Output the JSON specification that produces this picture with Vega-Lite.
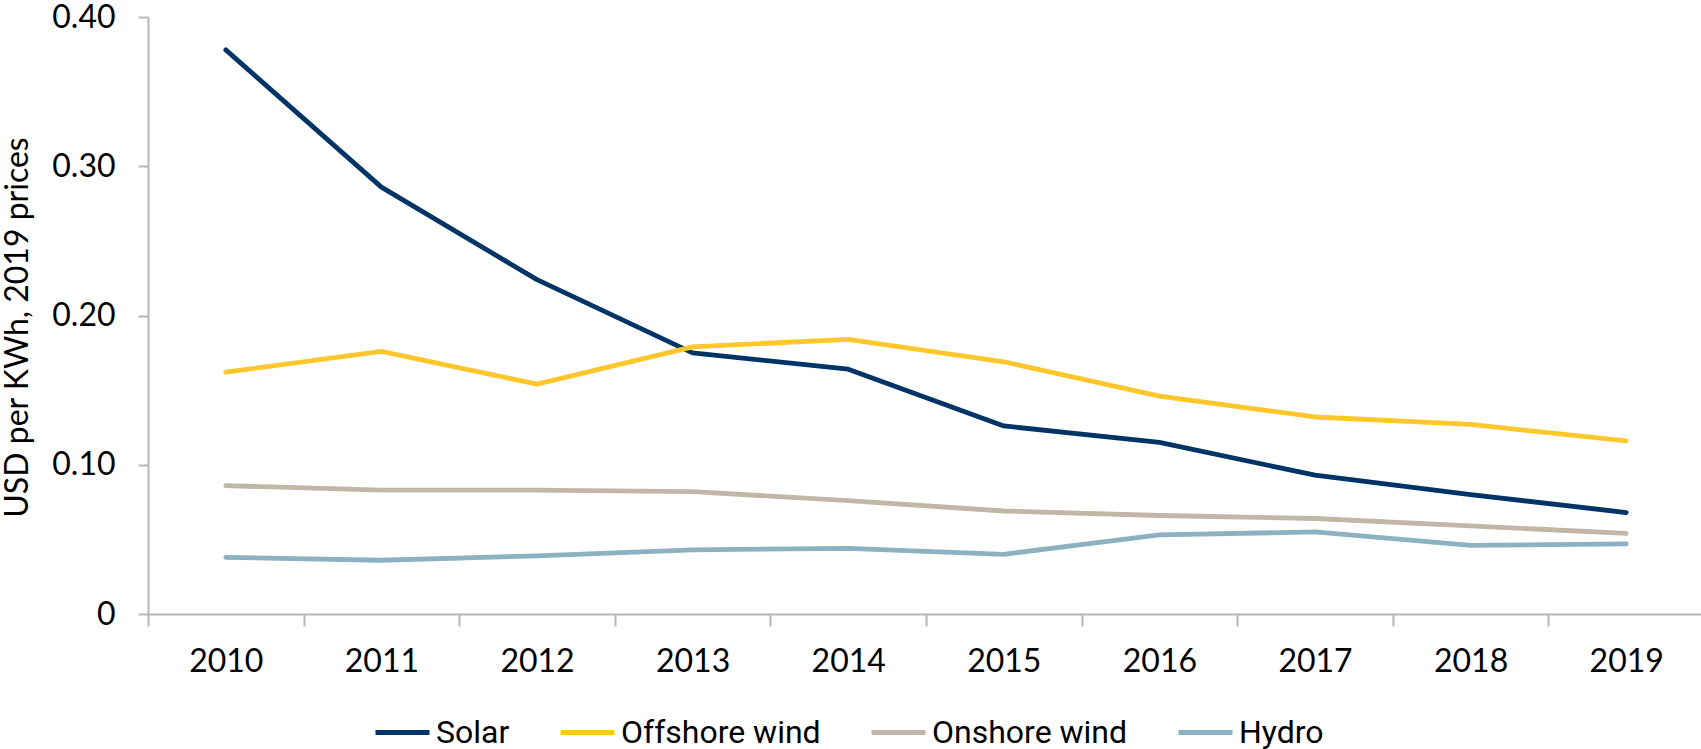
{
  "$schema": "https://vega.github.io/schema/vega-lite/v6.json",
  "width": 1556,
  "height": 597,
  "autosize": {"type": "none"},
  "padding": {"left": 148, "top": 17, "right": 0, "bottom": 135},
  "background": "white",
  "config": {
    "view": {"stroke": null},
    "font": "Lato",
    "axis": {"labelFont": "Lato", "titleFont": "Lato", "labelColor": "#000", "titleColor": "#000", "domainColor": "#b7b7b7", "tickColor": "#b7b7b7", "domainWidth": 2, "tickWidth": 2, "grid": false},
    "legend": {"labelFont": "Roboto"}
  },
  "data": {
    "values": [
      {"year": "2010", "source": "Solar", "value": 0.378},
      {"year": "2011", "source": "Solar", "value": 0.286},
      {"year": "2012", "source": "Solar", "value": 0.224},
      {"year": "2013", "source": "Solar", "value": 0.175},
      {"year": "2014", "source": "Solar", "value": 0.164},
      {"year": "2015", "source": "Solar", "value": 0.126},
      {"year": "2016", "source": "Solar", "value": 0.115},
      {"year": "2017", "source": "Solar", "value": 0.093},
      {"year": "2018", "source": "Solar", "value": 0.080},
      {"year": "2019", "source": "Solar", "value": 0.068},
      {"year": "2010", "source": "Offshore wind", "value": 0.162},
      {"year": "2011", "source": "Offshore wind", "value": 0.176},
      {"year": "2012", "source": "Offshore wind", "value": 0.154},
      {"year": "2013", "source": "Offshore wind", "value": 0.179},
      {"year": "2014", "source": "Offshore wind", "value": 0.184},
      {"year": "2015", "source": "Offshore wind", "value": 0.169},
      {"year": "2016", "source": "Offshore wind", "value": 0.146},
      {"year": "2017", "source": "Offshore wind", "value": 0.132},
      {"year": "2018", "source": "Offshore wind", "value": 0.127},
      {"year": "2019", "source": "Offshore wind", "value": 0.116},
      {"year": "2010", "source": "Onshore wind", "value": 0.086},
      {"year": "2011", "source": "Onshore wind", "value": 0.083},
      {"year": "2012", "source": "Onshore wind", "value": 0.083},
      {"year": "2013", "source": "Onshore wind", "value": 0.082},
      {"year": "2014", "source": "Onshore wind", "value": 0.076},
      {"year": "2015", "source": "Onshore wind", "value": 0.069},
      {"year": "2016", "source": "Onshore wind", "value": 0.066},
      {"year": "2017", "source": "Onshore wind", "value": 0.064},
      {"year": "2018", "source": "Onshore wind", "value": 0.059},
      {"year": "2019", "source": "Onshore wind", "value": 0.054},
      {"year": "2010", "source": "Hydro", "value": 0.038},
      {"year": "2011", "source": "Hydro", "value": 0.036},
      {"year": "2012", "source": "Hydro", "value": 0.039},
      {"year": "2013", "source": "Hydro", "value": 0.043},
      {"year": "2014", "source": "Hydro", "value": 0.044},
      {"year": "2015", "source": "Hydro", "value": 0.040},
      {"year": "2016", "source": "Hydro", "value": 0.053},
      {"year": "2017", "source": "Hydro", "value": 0.055},
      {"year": "2018", "source": "Hydro", "value": 0.046},
      {"year": "2019", "source": "Hydro", "value": 0.047}
    ]
  },
  "mark": {"type": "line", "strokeWidth": 4.8, "strokeCap": "round", "strokeJoin": "round"},
  "encoding": {
    "x": {
      "field": "year", "type": "ordinal",
      "scale": {"type": "band", "paddingInner": 0, "paddingOuter": 0},
      "axis": {"title": null, "labelAngle": 0, "labelFontSize": 32, "tickSize": 12, "labelPadding": 20, "ticks": true, "domain": true, "tickBand": "extent"}
    },
    "y": {
      "field": "value", "type": "quantitative",
      "scale": {"domain": [0, 0.4], "nice": false},
      "axis": {
        "values": [0, 0.1, 0.2, 0.3, 0.4],
        "labelExpr": "datum.value == 0 ? '0' : format(datum.value, '.2f')",
        "labelFontSize": 32, "tickSize": 10, "labelPadding": 23,
        "title": "USD per KWh, 2019 prices", "titleFontSize": 32, "titleFontWeight": "normal",
        "titleX": -121, "titleY": 310, "titleAngle": -90, "titleAlign": "center", "titleBaseline": "alphabetic"
      }
    },
    "color": {
      "field": "source", "type": "nominal",
      "scale": {"domain": ["Solar", "Offshore wind", "Onshore wind", "Hydro"], "range": ["#003366", "#FFC72C", "#C2B6A6", "#8CB1C3"]},
      "legend": {
        "title": null, "orient": "none", "direction": "horizontal",
        "legendX": 225, "legendY": 686, "gridAlign": "none",
        "symbolType": "stroke", "symbolSize": 2916, "symbolStrokeWidth": 5,
        "labelFontSize": 32, "labelColor": "#000", "labelOffset": 4, "labelLimit": 0, "columnPadding": 40, "padding": 0
      }
    }
  }
}
